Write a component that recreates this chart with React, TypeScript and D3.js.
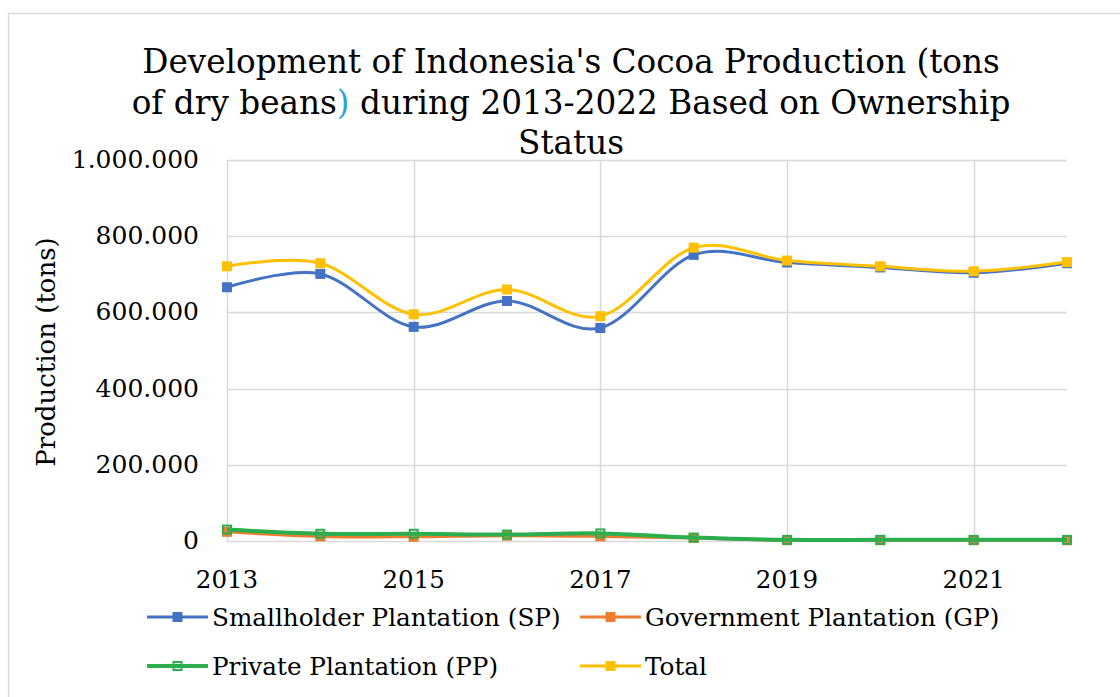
import React from "react";
import * as d3 from "d3";

const years = [2013, 2014, 2015, 2016, 2017, 2018, 2019, 2020, 2021, 2022];
const smallholder = [666000, 701000, 562000, 630000, 559000, 751000, 731000, 718000, 704000, 729000];
const government = [24000, 12000, 11000, 14000, 12000, 8000, 2000, 2000, 2000, 2000];
const privatePl = [30000, 19000, 19000, 17000, 20000, 9000, 3000, 3000, 3000, 3000];
const total = [721000, 729000, 595000, 660000, 590000, 770000, 736000, 721000, 708000, 732000];
const yTicks = [0, 200000, 400000, 600000, 800000, 1000000];
const xLabelYears = [2013, 2015, 2017, 2019, 2021];
const titleLines = [
  "Development of Indonesia's Cocoa Production (tons",
  "of dry beans) during 2013-2022 Based on Ownership",
  "Status",
];

const series = [
  { name: "Smallholder Plantation (SP)", values: smallholder, color: "#4472C4", hollow: false, width: 3 },
  { name: "Government Plantation (GP)", values: government, color: "#ED7D31", hollow: false, width: 3 },
  { name: "Private Plantation (PP)", values: privatePl, color: "#2BAE4E", hollow: true, width: 4 },
  { name: "Total", values: total, color: "#FFC000", hollow: false, width: 3 },
];

const W = 1120;
const H = 697;
const FONT = "'DejaVu Serif', serif";
const fmt = d3.formatLocale({ decimal: ",", thousands: ".", grouping: [3], currency: ["", ""] }).format(",");

export default function App() {
  const x = d3.scaleLinear().domain([2013, 2022]).range([227, 1067]);
  const y = d3.scaleLinear().domain([0, 1000000]).range([541, 160]);
  const line = d3
    .line<number>()
    .x((_, i) => x(years[i]))
    .y((d) => y(d))
    .curve(d3.curveCardinal.tension(0));

  const legendItems = [
    { s: series[0], lx: 147, ly: 617 },
    { s: series[1], lx: 580, ly: 617 },
    { s: series[2], lx: 147, ly: 666 },
    { s: series[3], lx: 580, ly: 666 },
  ];

  const marker = (s: any, cx: number, cy: number, key: any) => {
    const m = 10;
    return s.hollow ? (
      <rect key={key} x={cx - m / 2 + 1} y={cy - m / 2 + 1} width={m - 2} height={m - 2} fill="none" stroke={s.color} strokeWidth={2} />
    ) : (
      <rect key={key} x={cx - m / 2} y={cy - m / 2} width={m} height={m} fill={s.color} />
    );
  };

  return (
    <div style={{ position: "fixed", left: 0, top: 0 }}>
      <svg width={W} height={H} style={{ display: "block", background: "#fff" }}>
        <rect x={8.5} y={13.5} width={W + 20} height={H + 20} fill="#fff" stroke="#D9D9D9" strokeWidth={1.5} />
        {titleLines.map((t, i) => (
          <text key={i} x={571} y={73 + i * 40.5} textAnchor="middle" fontFamily={FONT} fontSize={32.7} fill="#000">
            {i === 1 ? (
              <>
                <tspan>of dry beans</tspan>
                <tspan fill="#2EA3DC">)</tspan>
                <tspan>{" during 2013-2022 Based on Ownership"}</tspan>
              </>
            ) : (
              t
            )}
          </text>
        ))}
        {yTicks.map((v) => (
          <g key={v}>
            <line x1={227} x2={1067} y1={Math.round(y(v)) + 0.5} y2={Math.round(y(v)) + 0.5} stroke="#D9D9D9" strokeWidth={1.5} />
            <text x={199} y={y(v) + 8} textAnchor="end" fontFamily={FONT} fontSize={25} fill="#000">
              {fmt(v)}
            </text>
          </g>
        ))}
        {xLabelYears.map((yr) => (
          <g key={yr}>
            <line x1={Math.round(x(yr)) + 0.5} x2={Math.round(x(yr)) + 0.5} y1={y(1000000)} y2={y(0)} stroke="#D9D9D9" strokeWidth={1.5} />
            <text x={x(yr)} y={588} textAnchor="middle" fontFamily={FONT} fontSize={24.5} fill="#000">
              {yr}
            </text>
          </g>
        ))}
        <text transform={`translate(55,${352}) rotate(-90)`} textAnchor="middle" fontFamily={FONT} fontSize={26} fill="#000">
          Production (tons)
        </text>
        {series.map((s, si) => (
          <g key={si}>
            <path d={line(s.values) || ""} fill="none" stroke={s.color} strokeWidth={s.width} strokeLinejoin="round" />
            {s.values.map((v, i) => marker(s, x(years[i]), y(v), i))}
          </g>
        ))}
        {legendItems.map((it, i) => (
          <g key={i}>
            <line x1={it.lx} x2={it.lx + 61} y1={it.ly} y2={it.ly} stroke={it.s.color} strokeWidth={it.s.width} />
            {marker(it.s, it.lx + 30.5, it.ly, "m")}
            <text x={it.lx + 65} y={it.ly + 8.5} fontFamily={FONT} fontSize={24.7} fill="#000">
              {it.s.name}
            </text>
          </g>
        ))}
      </svg>
    </div>
  );
}
